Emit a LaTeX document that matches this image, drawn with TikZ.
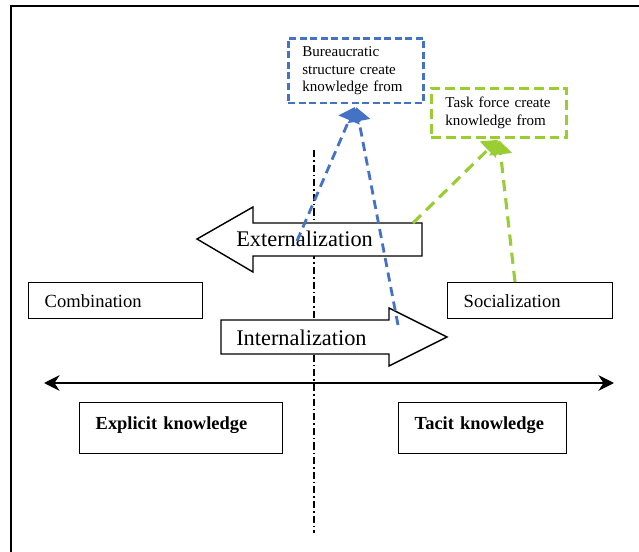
\documentclass[tikz,border=0pt]{standalone}
\usepackage{fontspec}
\setmainfont{Liberation Serif}
\usetikzlibrary{arrows.meta,calc}
\definecolor{Bureau}{HTML}{4472C4}
\definecolor{Task}{HTML}{9ACD32}
\tikzset{
 box/.style={draw, line width=1pt, anchor=north west, align=left, inner xsep=11.4pt, inner ysep=0pt, font=\fontsize{13.2}{15}\selectfont},
 boldbox/.style={box, minimum height=36.3pt, text depth=7pt, font=\fontsize{13.1}{15}\selectfont\bfseries},
 bluebox/.style={box, draw=Bureau, line width=1.8pt, dash pattern=on 5pt off 2.5pt, inner xsep=10pt, text width=76pt, font=\fontsize{10.7}{12.6}\selectfont},
 greenbox/.style={box, draw=Task, line width=2pt, dash pattern=on 7pt off 3.5pt, inner xsep=10pt, text width=76pt, font=\fontsize{10.7}{12.6}\selectfont},
 bigarrow/.style={draw, line width=1pt, fill=white, line join=miter},
 arrowtext/.style={inner sep=0pt, anchor=west, font=\fontsize{15.9}{18}\selectfont},
 bluelink/.style={draw=Bureau, line width=2pt, dash pattern=on 6.5pt off 4pt, -{Triangle[length=10pt,width=16pt]}, shorten >=2pt},
 greenlink/.style={draw=Task, line width=2.2pt, dash pattern=on 8pt off 5pt, -{Triangle[length=10pt,width=16pt]}, shorten >=1pt},
 axis/.style={line width=2pt, {Stealth[length=11pt,width=11pt]}-{Stealth[length=11pt,width=11pt]}},
 divider/.style={line width=1.4pt, dash pattern=on 5pt off 2.2pt on 1pt off 2.2pt}
}
\begin{document}
\begin{tikzpicture}[x=0.025cm, y=-0.025cm]
\useasboundingbox (0,0) rectangle (639,552);
% outer frame, only top and left edges show
\draw[line width=1.4pt] (11,552) -- (11,6) -- (639,6);

% middle divider
\coordinate (divTop) at (314,150);
\coordinate (divBot) at (314,533);
\draw[divider] (divTop) -- (divBot);

% modes of conversion
\node[box, text width=101pt, minimum height=25.6pt] (comb) at (28,282) {Combination};
\node[box, text width=94.6pt, minimum height=25.6pt] (soc) at (447,282) {Socialization};

\draw[bigarrow] (422,223) -- (253,223) -- (253,207) -- (197,239) -- (253,272) -- (253,256) -- (422,256) -- cycle;
\node[arrowtext] (ext) at (236,239) {Externalization};
\draw[bigarrow] (221,320) -- (389,320) -- (389,308) -- (447,337) -- (389,366) -- (389,354) -- (221,354) -- cycle;
\node[arrowtext] (int) at (236,338) {Internalization};

% knowledge axis
\coordinate (axL) at (44,383);
\coordinate (axR) at (614,383);
\draw[axis] (axL) -- (axR);
\node[boldbox, text width=121.6pt] (expl) at (79,402) {Explicit knowledge};
\node[boldbox, text width=96.7pt] (tacit) at (398,402) {Tacit knowledge};

% the two organisation forms
\node[bluebox, minimum height=46.2pt] (bureau) at (287,37) {Bureaucratic\\structure create\\knowledge from};
\node[greenbox, minimum height=34.9pt] (task) at (430,87) {Task force create\\knowledge from};

\coordinate (extB) at (297,241);
\coordinate (intB) at (398,325);
\coordinate (extG) at (413,223);
\coordinate (socG) at ($(soc.north west)+(68,0)$);
\draw[bluelink] (extB) -- (bureau.south);
\draw[bluelink] (intB) -- (bureau.south);
\draw[greenlink] (extG) -- (task.south);
\draw[greenlink] (socG) -- (task.south);
\end{tikzpicture}
\end{document}
